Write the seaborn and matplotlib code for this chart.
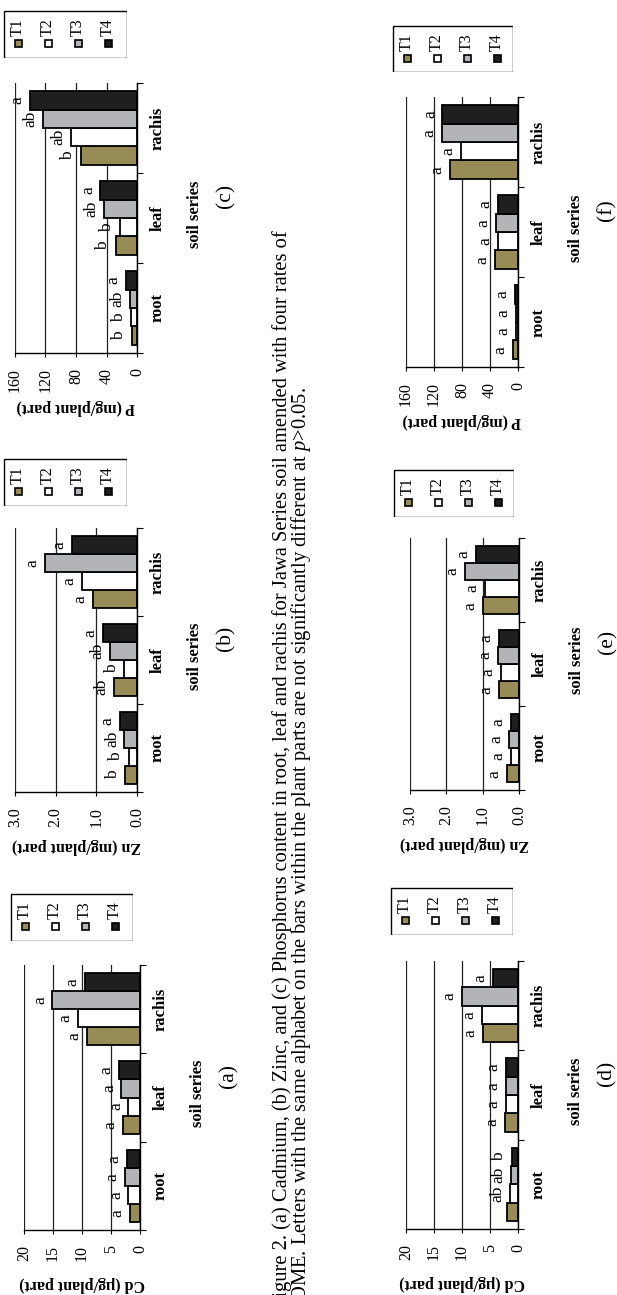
import matplotlib
matplotlib.use("Agg")
import pandas as pd
import matplotlib.pyplot as plt
import seaborn as sns
from matplotlib.patches import Rectangle

# Figure 2 - Cd, Zn and P in root, leaf and rachis (page is rotated 90 degrees)

parts = ["root", "leaf", "rachis"]
treatments = ["T1", "T2", "T3", "T4"]
colors = ["#978c56", "#ffffff", "#b2b4b8", "#1f1f1f"]

# values: one list per treatment, order root, leaf, rachis
cd_a = [[1.8, 3.0, 9.1], [2.0, 2.0, 10.7], [2.6, 3.2, 15.1], [2.3, 3.6, 9.5]]
zn_b = [[0.29, 0.56, 1.08], [0.20, 0.31, 1.36], [0.31, 0.66, 2.26], [0.43, 0.84, 1.60]]
p_c = [[6.6, 27.6, 73.7], [7.5, 22.8, 86.8], [9.6, 43.0, 122.8], [14.0, 48.0, 140.0]]
cd_d = [[2.0, 2.3, 6.2], [1.5, 2.1, 6.5], [1.2, 2.1, 10.0], [1.1, 2.1, 4.5]]
zn_e = [[0.33, 0.56, 1.00], [0.21, 0.50, 0.94], [0.28, 0.58, 1.49], [0.21, 0.55, 1.19]]
p_f = [[7.0, 33.0, 97.0], [3.3, 28.5, 81.7], [3.3, 31.0, 109.0], [4.7, 28.5, 108.0]]

# significance letters, same layout
let_a = [["a", "a", "a"], ["a", "a", "a"], ["a", "a", "a"], ["a", "a", "a"]]
let_b = [["b", "ab", "a"], ["b", "b", "a"], ["ab", "ab", "a"], ["a", "a", "a"]]
let_c = [["b", "b", "b"], ["b", "b", "ab"], ["ab", "ab", "ab"], ["a", "a", "a"]]
let_d = [["", "a", "a"], ["ab", "a", "a"], ["ab", "a", "a"], ["b", "a", "a"]]
let_e = [["a", "a", "a"], ["a", "a", "a"], ["a", "a", "a"], ["a", "a", "a"]]
let_f = [["a", "a", "a"], ["a", "a", "a"], ["a", "a", "a"], ["a", "a", "a"]]

cd_ticks = [0, 5, 10, 15, 20]
zn_ticks = [0.0, 1.0, 2.0, 3.0]
p_ticks = [0, 40, 80, 120, 160]

cd_label = "Cd (µg/plant part)"
zn_label = "Zn (mg/plant part)"
p_label = "P (mg/plant part)"

caption1 = ("Figure 2. (a) Cadmium, (b) Zinc, and (c) Phosphorus content in root, leaf and "
            "rachis for Jawa Series soil amended with four rates of")
caption2 = ("POME. Letters with the same alphabet on the bars within the plant parts are "
            "not significantly different at $p$>0.05.")

plt.rcParams["font.family"] = ["Liberation Serif", "DejaVu Serif"]
plt.rcParams["mathtext.fontset"] = "custom"
plt.rcParams["mathtext.rm"] = "Liberation Serif"
plt.rcParams["mathtext.it"] = "Liberation Serif:italic"

W, H = 617, 1295
fig = plt.figure(figsize=(W / 100, H / 100), dpi=100)


def fx(x):
    return x / W


def fy(y):
    return 1 - y / H


# (values, letters, ticks, fmt, ylabel, tag, plot box l,t,r,b, legend box l,t,r,b)
panels = [
    (cd_a, let_a, cd_ticks, "%d", cd_label, "(a)", (24, 965, 140, 1230), (10, 893, 133, 941)),
    (zn_b, let_b, zn_ticks, "%.1f", zn_label, "(b)", (15, 528, 137, 792), (3, 458, 127, 506)),
    (p_c, let_c, p_ticks, "%d", p_label, "(c)", (15, 83, 137, 353), (3, 10, 127, 58)),
    (cd_d, let_d, cd_ticks, "%d", cd_label, "(d)", (406, 961, 518, 1229), (390, 887, 513, 935)),
    (zn_e, let_e, zn_ticks, "%.1f", zn_label, "(e)", (410, 538, 519, 790), (393, 469, 514, 517)),
    (p_f, let_f, p_ticks, "%d", p_label, "(f)", (406, 97, 518, 367), (392, 25, 513, 72)),
]

for vals, letters, ticks, fmt, ylab, tag, box, lbox in panels:
    l, t, r, b = box
    ax = fig.add_axes([fx(l), fy(b), (r - l) / W, (b - t) / H])

    df = pd.DataFrame(
        [(parts[j], treatments[i], vals[i][j]) for i in range(4) for j in range(3)],
        columns=["part", "treatment", "value"],
    )
    sns.barplot(
        data=df, x="value", y="part", hue="treatment", order=parts,
        hue_order=treatments, palette=colors, orient="h", width=0.82,
        edgecolor="black", linewidth=1.3, saturation=1, errorbar=None,
        legend=False, ax=ax,
    )
    ax.set_ylim(-0.5, 2.5)
    ax.set_xlim(ticks[-1], 0)
    ax.set_xlabel("")
    ax.set_ylabel("")

    # gridlines behind the bars
    ax.set_axisbelow(True)
    ax.grid(axis="x", color="#222222", lw=0.9)
    ax.grid(axis="y", visible=False)
    for s in ["top", "left"]:
        ax.spines[s].set_visible(False)
    for s in ["right", "bottom"]:
        ax.spines[s].set_color("black")
        ax.spines[s].set_linewidth(1.0)

    ax.set_xticks(ticks)
    ax.set_xticklabels([fmt % v for v in ticks])
    ax.tick_params(axis="x", direction="out", length=3, width=0.8, pad=8,
                   labelrotation=90, labelsize=11.5)

    ax.yaxis.tick_right()
    ax.set_yticks([-0.5, 0.5, 1.5, 2.5])
    ax.set_yticklabels([])
    ax.set_yticks([0, 1, 2], minor=True)
    ax.set_yticklabels(parts, minor=True)
    ax.tick_params(axis="y", which="major", direction="out", length=4, width=0.8,
                   right=True, left=False)
    ax.tick_params(axis="y", which="minor", length=0, pad=9, right=True, left=False,
                   labelright=True, labelleft=False, labelrotation=90, labelsize=12)
    for lab in ax.get_yticklabels(minor=True):
        lab.set_fontweight("bold")
        lab.set_va("center")

    # letters just past the end of each bar
    for i, cont in enumerate(ax.containers):
        for j, bar in enumerate(cont):
            ax.annotate(letters[i][j], xy=(bar.get_width(), bar.get_y() + bar.get_height() / 2),
                        xytext=(-9, 0), textcoords="offset points", rotation=90,
                        ha="center", va="center", fontsize=12.5)

    cx = (l + r) / 2
    cy = (t + b) / 2
    fig.text(fx(cx), fy(b + 54), ylab, rotation=180, ha="center", va="center",
             fontsize=11.5, fontweight="bold")
    fig.text(fx(r + 58), fy(cy - 4), "soil series", rotation=90, ha="center",
             va="center", fontsize=12, fontweight="bold")
    fig.text(fx(r + 89), fy(cy - 22), tag, rotation=90, ha="center", va="center",
             fontsize=15.5)

    # legend box, entries run left to right
    ll, lt, lr, lb = lbox
    lax = fig.add_axes([fx(ll), fy(lb), (lr - ll) / W, (lb - lt) / H])
    lax.set_xlim(0, lr - ll)
    lax.set_ylim(lb - lt, 0)
    lax.axis("off")
    lax.add_patch(Rectangle((0.5, 0.5), lr - ll - 1, lb - lt - 1, facecolor="white",
                            edgecolor="black", lw=1.0))
    for k, name in enumerate(treatments):
        x0 = 15 + 30 * k
        lax.add_patch(Rectangle((x0 - 3.5, 29.5), 7, 7, facecolor=colors[k],
                                edgecolor="black", lw=1.2))
        lax.text(x0, 17, name, rotation=90, ha="center", va="center", fontsize=11.5)

fig.text(fx(282), fy(230), caption1, rotation=90, rotation_mode="anchor",
         ha="right", va="center", fontsize=14.8)
fig.text(fx(301), fy(387), caption2, rotation=90, rotation_mode="anchor",
         ha="right", va="center", fontsize=14.8)

plt.savefig("out.png", dpi=100)
plt.close()
